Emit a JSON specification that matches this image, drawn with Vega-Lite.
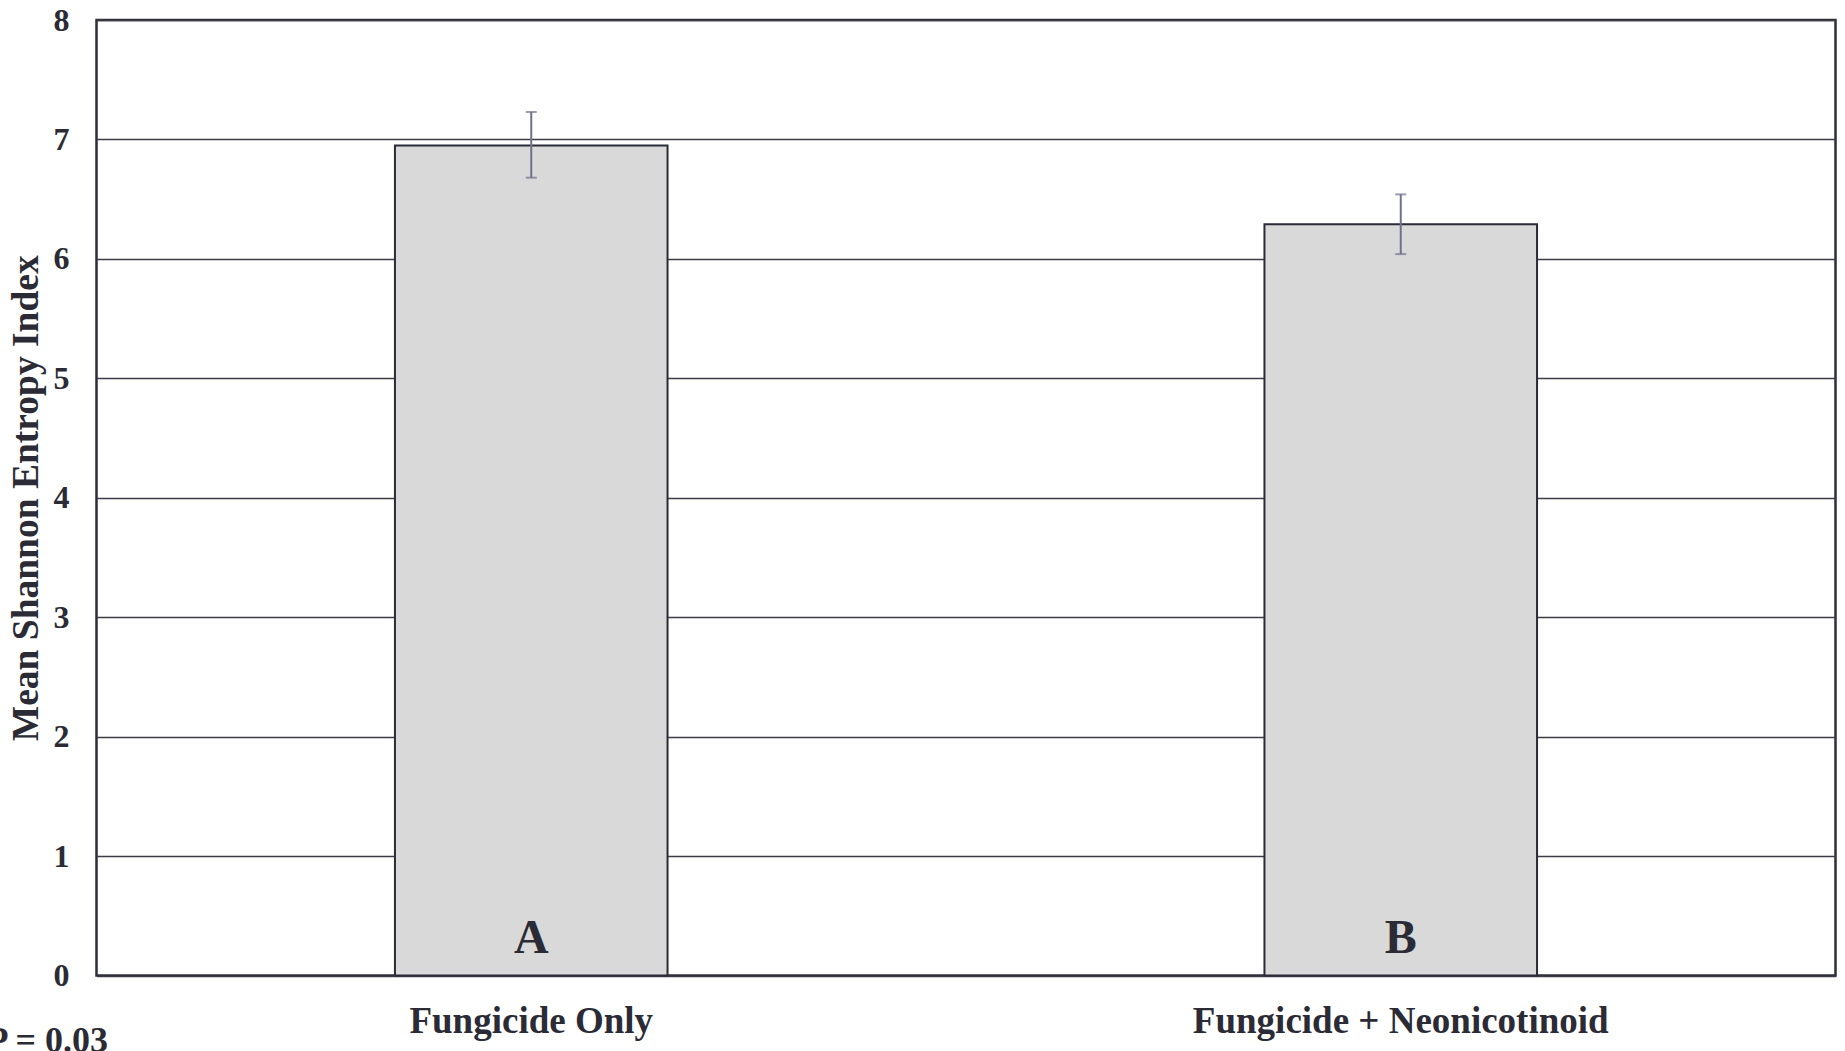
{
  "$schema": "https://vega.github.io/schema/vega-lite/v6.json",
  "width": 1739,
  "height": 955.5,
  "autosize": {"type": "none"},
  "padding": {"left": 96.5, "top": 20, "right": 9.5, "bottom": 75.5},
  "background": "white",
  "title": {
    "text": "P = 0.03",
    "orient": "bottom",
    "anchor": "start",
    "frame": "group",
    "dx": -110,
    "offset": -15,
    "fontSize": 36,
    "fontWeight": "bold",
    "font": "Liberation Serif",
    "color": "#2b2b36"
  },
  "config": {
    "view": {"stroke": "#2e2e3a", "strokeWidth": 2.5},
    "font": "Liberation Serif",
    "axisX": {
      "labelAngle": 0,
      "labelFontSize": 37,
      "labelFontWeight": "bold",
      "labelColor": "#2b2b36",
      "labelFont": "Liberation Serif",
      "labelBaseline": "alphabetic",
      "labelPadding": 56.5,
      "labelLimit": 0,
      "domain": false,
      "ticks": false,
      "tickSize": 0,
      "grid": false
    },
    "axisY": {
      "grid": true,
      "gridColor": "#3c3c46",
      "gridWidth": 1.5,
      "domain": false,
      "ticks": false,
      "tickSize": 0,
      "labelPadding": 27.5,
      "labelFontSize": 32,
      "labelFontWeight": "bold",
      "labelColor": "#2b2b36",
      "labelFont": "Liberation Serif",
      "titleFontSize": 37.5,
      "titleFontWeight": "bold",
      "titleFont": "Liberation Serif",
      "titleColor": "#2b2b36"
    }
  },
  "data": {
    "values": [
      {"treatment": "Fungicide Only", "mean": 6.95, "lo": 6.68, "hi": 7.23, "letter": "A"},
      {"treatment": "Fungicide + Neonicotinoid", "mean": 6.29, "lo": 6.04, "hi": 6.54, "letter": "B"}
    ]
  },
  "encoding": {
    "x": {
      "field": "treatment",
      "type": "nominal",
      "sort": null,
      "title": null,
      "scale": {"paddingInner": 0, "paddingOuter": 0}
    }
  },
  "layer": [
    {
      "mark": {"type": "bar", "fill": "#d9d9d9", "stroke": "#2b2b38", "strokeWidth": 2, "width": {"band": 0.3135}},
      "encoding": {
        "y": {
          "field": "mean",
          "type": "quantitative",
          "title": "Mean Shannon Entropy Index",
          "scale": {"domain": [0, 8], "nice": false},
          "axis": {
            "values": [0, 1, 2, 3, 4, 5, 6, 7, 8],
            "format": "d",
            "titleX": -59.5,
            "titleY": 477.75,
            "titleBaseline": "alphabetic",
            "titleAlign": "center",
            "titleAngle": -90
          }
        }
      }
    },
    {
      "mark": {"type": "rule", "color": "#70708c", "strokeWidth": 2},
      "encoding": {
        "y": {"field": "lo", "type": "quantitative", "title": "Mean Shannon Entropy Index"},
        "y2": {"field": "hi"}
      }
    },
    {
      "mark": {"type": "tick", "color": "#70708c", "size": 11, "thickness": 2},
      "encoding": {
        "y": {"field": "lo", "type": "quantitative", "title": "Mean Shannon Entropy Index"}
      }
    },
    {
      "mark": {"type": "tick", "color": "#70708c", "size": 11, "thickness": 2},
      "encoding": {
        "y": {"field": "hi", "type": "quantitative", "title": "Mean Shannon Entropy Index"}
      }
    },
    {
      "mark": {"type": "text", "fontSize": 48, "fontWeight": "bold", "font": "Liberation Serif", "color": "#2b2b36", "baseline": "alphabetic", "align": "center", "dy": -22.5},
      "encoding": {
        "y": {"datum": 0, "type": "quantitative"},
        "text": {"field": "letter"}
      }
    }
  ]
}
